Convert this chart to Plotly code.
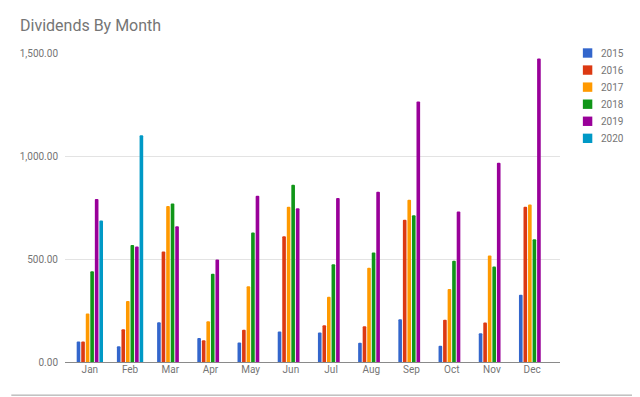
import plotly.graph_objects as go

months = ["Jan", "Feb", "Mar", "Apr", "May", "Jun", "Jul", "Aug", "Sep", "Oct", "Nov", "Dec"]
years = ["2015", "2016", "2017", "2018", "2019", "2020"]

v2015 = [100, 76, 193, 117, 95, 148, 143, 93, 207, 79, 140, 326]
v2016 = [100, 159, 537, 105, 156, 611, 178, 174, 690, 205, 192, 754]
v2017 = [236, 296, 757, 198, 368, 754, 317, 458, 788, 354, 517, 765]
v2018 = [441, 568, 769, 428, 629, 860, 474, 531, 712, 491, 463, 596]
v2019 = [791, 561, 659, 497, 807, 746, 796, 826, 1265, 730, 967, 1473]
v2020 = [687, 1101, None, None, None, None, None, None, None, None, None, None]

series = [v2015, v2016, v2017, v2018, v2019, v2020]
colors = ["#3366CC", "#DC3912", "#FF9900", "#109618", "#990099", "#0099C6"]

# page has an 8px body margin; work in page pixels and convert
OFF = 8
W, H = 632, 389
L, R = 62 - OFF, 560 - OFF
T, B = 52.7 - OFF, 362.3 - OFF

xpos = list(range(len(months)))

fig = go.Figure()
for name, vals, c in zip(years, series, colors):
    fig.add_trace(go.Bar(x=xpos, y=vals, name=name, marker=dict(color=c, line=dict(width=0)),
                         showlegend=False))

def px_to_paper(px, py):
    px -= OFF
    py -= OFF
    return (px - L) / (R - L), (B - py) / (B - T)

shapes = []
annotations = []
for i, (name, c) in enumerate(zip(years, colors)):
    cy = 52.7 + i * 17.1
    x0, y0 = px_to_paper(583, cy + 4.7)
    x1, y1 = px_to_paper(592.5, cy - 4.7)
    shapes.append(dict(type="rect", xref="paper", yref="paper", x0=x0, x1=x1, y0=y0, y1=y1,
                       fillcolor=c, line=dict(width=0)))
    tx, ty = px_to_paper(599, cy)
    annotations.append(dict(text=name, xref="paper", yref="paper", x=tx, y=ty,
                            xanchor="left", yanchor="middle", showarrow=False,
                            font=dict(family="Roboto", size=10, color="#757575")))

# bottom border line
bx0, by = px_to_paper(8, 395.5)
bx1, _ = px_to_paper(640, 395.5)
shapes.append(dict(type="line", xref="paper", yref="paper", x0=bx0, x1=bx1, y0=by, y1=by,
                   line=dict(color="#9e9e9e", width=1)))

spacing = 40.45
left_units = (87 - OFF - L) / spacing
fig.update_layout(
    width=W, height=H,
    margin=dict(l=L, r=W - R, t=T, b=H - B, pad=0),
    paper_bgcolor="white", plot_bgcolor="white",
    barmode="group", bargap=0.323, bargroupgap=0.2, barcornerradius=2,
    font=dict(family="Roboto", size=10, color="#757575"),
    title=dict(text="Dividends By Month", x=(20 - OFF) / W, xref="container", xanchor="left",
               y=1 - (25.5 - OFF) / H, yref="container", yanchor="middle",
               font=dict(family="Roboto", size=16, color="#757575")),
    xaxis=dict(tickmode="array", tickvals=xpos, ticktext=months,
               range=[-left_units, -left_units + (R - L) / spacing],
               showgrid=False, ticks="", zeroline=False, showline=False,
               tickfont=dict(size=10, color="#757575")),
    yaxis=dict(range=[0, 1500], tickvals=[0, 500, 1000, 1500], tickformat=",.2f",
               showgrid=True, gridcolor="#e3e3e3", gridwidth=1,
               zeroline=True, zerolinecolor="#8a8a8a", zerolinewidth=1,
               ticks="", ticklabelstandoff=6, tickfont=dict(size=10, color="#757575")),
    shapes=shapes, annotations=annotations,
)

fig.write_html("out.html")
